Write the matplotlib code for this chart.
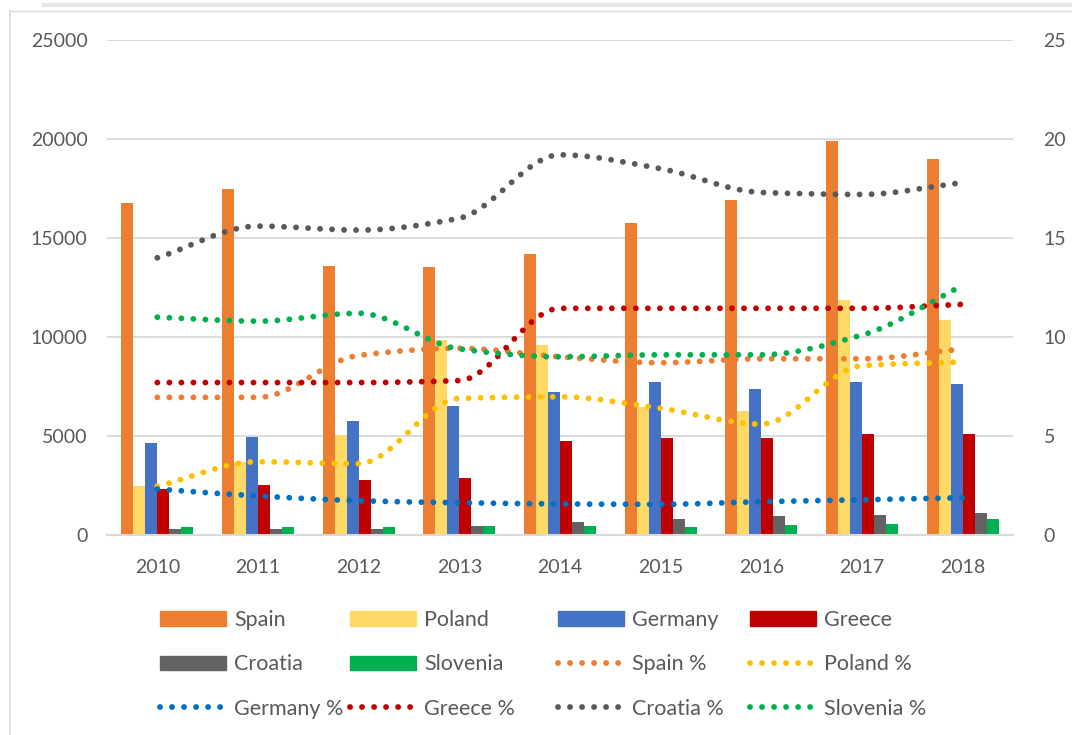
import matplotlib
matplotlib.use('Agg')
import matplotlib.pyplot as plt
from matplotlib.path import Path
from matplotlib.patches import PathPatch, Patch
from matplotlib.lines import Line2D
import numpy as np

years = ['2010', '2011', '2012', '2013', '2014', '2015', '2016', '2017', '2018']

# bar series (left axis)
spain = [16770, 17460, 13600, 13520, 14190, 15760, 16920, 19910, 18990]
poland = [2460, 3670, 5050, 9850, 9600, 6480, 6260, 11870, 10860]
germany = [4630, 4950, 5740, 6500, 7240, 7730, 7360, 7710, 7630]
greece = [2340, 2540, 2760, 2880, 4760, 4910, 4910, 5100, 5080]
croatia = [320, 320, 320, 440, 660, 830, 960, 1010, 1130]
slovenia = [390, 390, 390, 440, 450, 390, 490, 560, 790]

# percentage series (right axis)
spain_pct = [6.95, 6.95, 9.07, 9.43, 9.0, 8.7, 8.9, 8.9, 9.4]
poland_pct = [2.46, 3.7, 3.6, 6.9, 6.98, 6.4, 5.6, 8.55, 8.74]
germany_pct = [2.32, 1.97, 1.73, 1.63, 1.57, 1.55, 1.68, 1.78, 1.88]
greece_pct = [7.7, 7.7, 7.7, 7.8, 11.45, 11.45, 11.45, 11.45, 11.65]
croatia_pct = [14.0, 15.6, 15.4, 16.0, 19.2, 18.5, 17.3, 17.2, 17.8]
slovenia_pct = [11.0, 10.8, 11.2, 9.4, 9.0, 9.1, 9.1, 10.1, 12.6]

bar_names = ['Spain', 'Poland', 'Germany', 'Greece', 'Croatia', 'Slovenia']
bar_colors = ['#ED7D31', '#FFD966', '#4472C4', '#C00000', '#636363', '#00B050']
line_colors = ['#ED7D31', '#FFC000', '#0070C0', '#C00000', '#595959', '#00B050']

plt.rcParams['font.family'] = ['Lato', 'DejaVu Sans']
txt = '#595959'
grid = '#d9d9d9'
dots = (0, (0.01, 2.05))


def smooth_path(xs, ys):
    # smoothed line drawn as cubic bezier segments through the data points,
    # tangents kept flat at peaks/plateaus (no overshoot)
    xs = np.asarray(xs, float)
    ys = np.asarray(ys, float)
    n = len(xs)
    h = np.diff(xs)
    d = np.diff(ys) / h
    m = np.zeros(n)
    m[0], m[-1] = d[0], d[-1]
    for i in range(1, n - 1):
        if d[i - 1] * d[i] > 0:
            m[i] = 2 * d[i - 1] * d[i] / (d[i - 1] + d[i])
    verts = [(xs[0], ys[0])]
    codes = [Path.MOVETO]
    for i in range(n - 1):
        verts += [(xs[i] + h[i] / 3, ys[i] + m[i] * h[i] / 3),
                  (xs[i + 1] - h[i] / 3, ys[i + 1] - m[i + 1] * h[i] / 3),
                  (xs[i + 1], ys[i + 1])]
        codes += [Path.CURVE4] * 3
    return Path(verts, codes)


fig = plt.figure(figsize=(10.72, 7.35), dpi=100)
ax = fig.add_axes([107 / 1072, 1 - 535 / 735, 906 / 1072, 495 / 735])
ax2 = ax.twinx()

x = np.arange(len(years))
w = 0.119
series = [spain, poland, germany, greece, croatia, slovenia]
for k, (vals, c) in enumerate(zip(series, bar_colors)):
    ax.bar(x + (k - 2.5) * w, vals, width=w, color=c, zorder=2)

ax.set_xlim(-0.5, len(years) - 0.5)
ax.set_ylim(0, 25000)
ax.set_yticks(range(0, 25001, 5000))
ax.set_xticks(x)
ax.set_xticklabels(years)
ax.grid(axis='y', color=grid, linewidth=1.3, zorder=0)
ax.set_axisbelow(True)
for s in ['top', 'left', 'right']:
    ax.spines[s].set_visible(False)
ax.spines['bottom'].set_color(grid)
ax.spines['bottom'].set_linewidth(1.5)
ax.tick_params(axis='y', length=0, pad=14, labelsize=14, labelcolor=txt)
ax.tick_params(axis='x', length=0, pad=17.5, labelsize=14, labelcolor=txt)

pct = [spain_pct, poland_pct, germany_pct, greece_pct, croatia_pct, slovenia_pct]
ax2.set_ylim(0, 25)
ax2.set_yticks(range(0, 26, 5))
for s in ax2.spines.values():
    s.set_visible(False)
ax2.tick_params(axis='y', length=0, pad=22, labelsize=14, labelcolor=txt)
for vals, c in zip(pct, line_colors):
    ax2.add_patch(PathPatch(smooth_path(x, vals), fill=False, edgecolor=c,
                            linewidth=4.2, linestyle=dots, capstyle='round'))

# legend, laid out row by row like the original
bar_handles = [Patch(color=c) for c in bar_colors]
line_handles = [Line2D([], [], color=c, linewidth=4.2, linestyle=dots,
                       dash_capstyle='round') for c in line_colors]
handles = bar_handles + line_handles
labels = bar_names + [n + ' %' for n in bar_names]
col_x = [160, 350, 558, 750]
for j in range(4):
    hs = handles[j::4]
    ls = labels[j::4]
    fig.legend(hs, ls, loc='upper left', frameon=False,
               bbox_to_anchor=(col_x[j] / 1072, 1 - 610 / 735),
               borderaxespad=0, borderpad=0, fontsize=15.5,
               handlelength=3.07, handleheight=0.65, handletextpad=0.37,
               labelspacing=1.13, labelcolor=txt)

# chart frame
fig.add_artist(Line2D([44 / 1072, 1], [1 - 5 / 735] * 2, color='#e8e8e8', linewidth=3))
fig.add_artist(Line2D([9.5 / 1072, 1], [1 - 10.5 / 735] * 2, color=grid, linewidth=1))
fig.add_artist(Line2D([9.5 / 1072] * 2, [0, 1 - 10.5 / 735], color=grid, linewidth=1.2))

fig.savefig('out.png', dpi=100)
